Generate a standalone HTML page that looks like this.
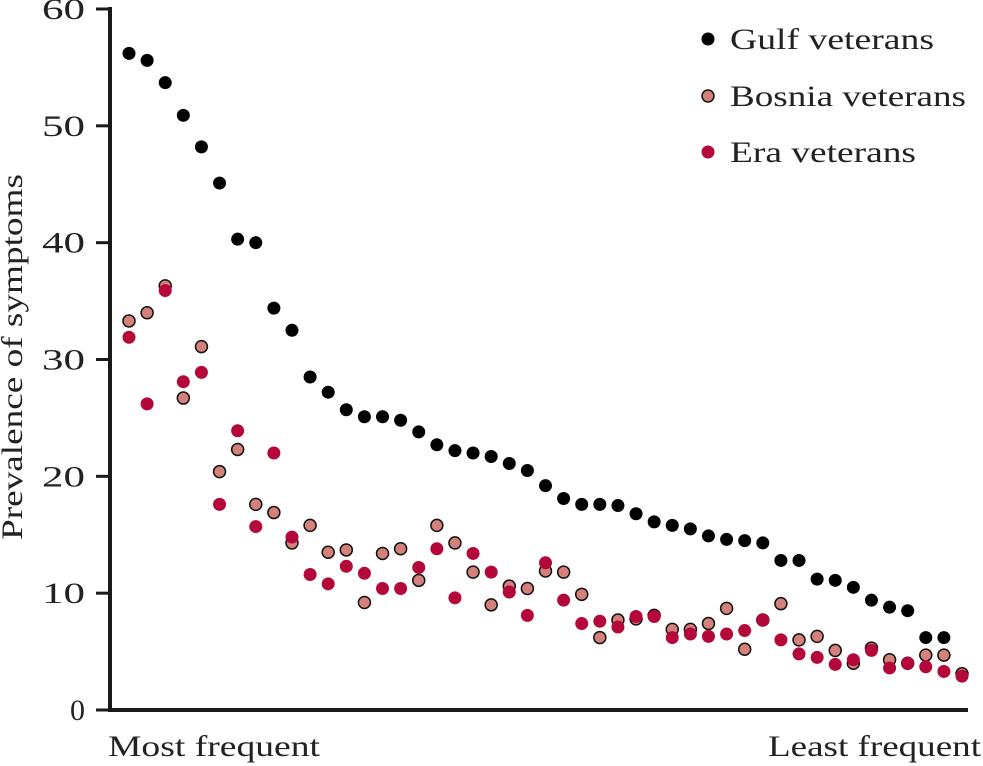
<!DOCTYPE html>
<html><head><meta charset="utf-8"><style>
html,body{margin:0;padding:0;background:#fff;}
svg{display:block;font-family:"Liberation Serif",serif;}
</style></head><body>
<svg id="chart" width="983" height="766">
<g id="axes"></g>
<g id="marks"></g>
<text x="22" y="357" font-size="30" text-anchor="middle" textLength="366" lengthAdjust="spacingAndGlyphs" transform="rotate(-90 22 357)" fill="#222">Prevalence of symptoms</text>
<text x="108" y="756" font-size="30" textLength="212" lengthAdjust="spacingAndGlyphs" fill="#222">Most frequent</text>
<text x="768" y="756" font-size="30" textLength="213" lengthAdjust="spacingAndGlyphs" fill="#222">Least frequent</text>
<g>
<g><circle cx="708" cy="39" r="6.5" fill="#000"/><text x="730" y="49" font-size="30" textLength="204" lengthAdjust="spacingAndGlyphs" fill="#222">Gulf veterans</text></g>
<g><circle cx="708" cy="96" r="6" fill="#d4817c" stroke="#111" stroke-width="1.5"/><text x="730" y="106" font-size="30" textLength="236" lengthAdjust="spacingAndGlyphs" fill="#222">Bosnia veterans</text></g>
<g><circle cx="708" cy="152" r="6.5" fill="#b5083a"/><text x="730" y="162" font-size="30" textLength="186" lengthAdjust="spacingAndGlyphs" fill="#222">Era veterans</text></g>
</g>
</svg>
<script>
const yTicks=[0,10,20,30,40,50,60];
const gulf=[56.2,55.6,53.7,50.9,48.2,45.1,40.3,40.0,34.4,32.5,28.5,27.2,25.7,25.1,25.1,24.8,23.8,22.7,22.2,22.0,21.7,21.1,20.5,19.2,18.1,17.6,17.6,17.5,16.8,16.1,15.8,15.5,14.9,14.6,14.5,14.3,12.8,12.8,11.2,11.1,10.5,9.4,8.8,8.5,6.2,6.2];
const bosnia=[33.3,34.0,36.3,26.7,31.1,20.4,22.3,17.6,16.9,14.3,15.8,13.5,13.7,9.2,13.4,13.8,11.1,15.8,14.3,11.8,9.0,10.6,10.4,11.9,11.8,9.9,6.2,7.7,7.8,8.1,6.9,6.9,7.4,8.7,5.2,7.7,9.1,6.0,6.3,5.1,4.0,5.3,4.3,4.0,4.7,4.7,3.1];
const era=[31.9,26.2,35.9,28.1,28.9,17.6,23.9,15.7,22.0,14.8,11.6,10.8,12.3,11.7,10.4,10.4,12.2,13.8,9.6,13.4,11.8,10.1,8.1,12.6,9.4,7.4,7.6,7.1,8.0,8.0,6.2,6.5,6.3,6.5,6.8,7.7,6.0,4.8,4.5,3.9,4.3,5.1,3.6,4.0,3.7,3.3,2.9];
const NS='http://www.w3.org/2000/svg';
const x=i=>129+i*(962-129)/46;
const y=v=>710-v*(710-9)/60;
const axes=document.getElementById('axes'),marks=document.getElementById('marks');
function mk(tag,attrs,parent){const e=document.createElementNS(NS,tag);for(const k in attrs)e.setAttribute(k,attrs[k]);parent.appendChild(e);return e;}
let l=mk('line',{x1:110,y1:7,x2:110,y2:712,stroke:'#1a1a1a','stroke-width':4},axes);


l=mk('line',{x1:108,y1:710,x2:968,y2:710,stroke:'#1a1a1a','stroke-width':4},axes);


yTicks.forEach(t=>{
 const tk=mk('line',{x1:96,x2:110,y1:y(t),y2:y(t),stroke:'#1a1a1a','stroke-width':3},axes);
 
 
 const attrs={x:85,y:y(t)+10,'font-size':30,'text-anchor':'end',fill:'#222'};
 if(String(t).length>1){attrs.textLength=43;attrs.lengthAdjust='spacingAndGlyphs';}
 const tx=mk('text',attrs,axes);
 tx.textContent=t;
 
 
});
function series(arr,name,attrs){
 arr.forEach((v,i)=>{
  const c=mk('circle',Object.assign({cx:x(i),cy:y(v)},attrs),marks);
  
  
 });
}
series(gulf,'gulf',{r:6.5,fill:'#000'});
series(bosnia,'bosnia',{r:6,fill:'#d4817c',stroke:'#111','stroke-width':1.5});
series(era,'era',{r:6.5,fill:'#b5083a'});
</script>
</body></html>
